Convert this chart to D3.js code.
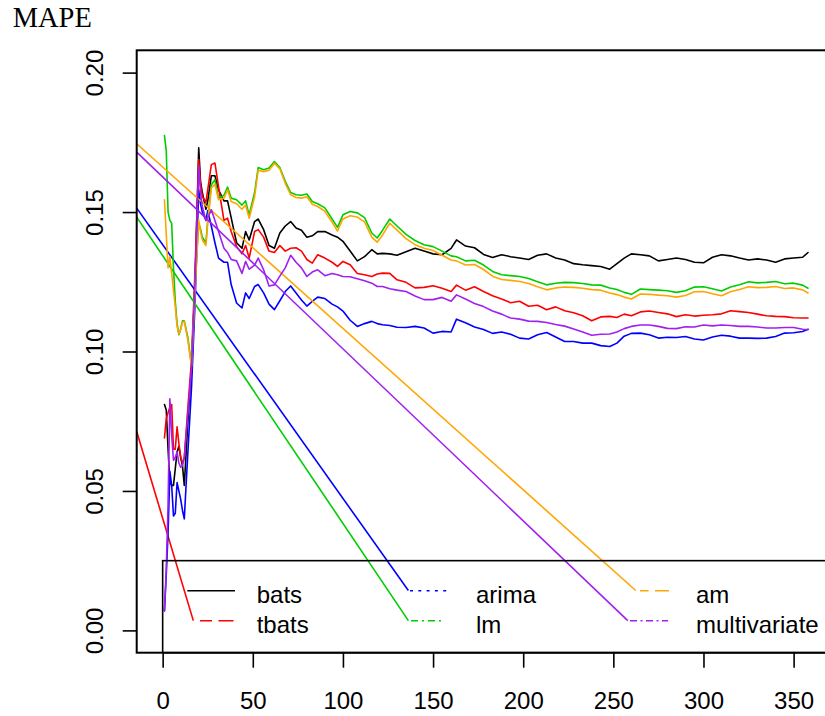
<!DOCTYPE html>
<html lang="en">
  <head>
    <meta charset="utf-8" />
    <title>MAPE</title>
    <script src="https://d3js.org/d3.v7.min.js"></script>
    <style>
      body { margin: 0; background: #fff; }
      text { font-family: "Liberation Sans", Arial, sans-serif; }
    </style>
  </head>
  <body>
    <div id="chart"></div>
    <script>
      // horizon (days) shared by every series
      const xVals = [1, 2, 3, 4, 5, 6, 7, 8, 9, 10,
        11, 12, 14, 16, 18, 20, 21, 22, 24, 25,
        27, 29, 31, 34, 36, 38, 41, 44, 46, 48,
        51, 53, 56, 59, 62, 65, 68, 71, 74, 77,
        80, 83, 86, 90, 94, 97, 100, 104, 108, 112,
        116, 119, 122, 126, 130, 135, 140, 145, 150, 155,
        160, 163, 168, 173, 178, 183, 188, 193, 198, 203,
        208, 213, 218, 223, 228, 233, 238, 243, 248, 252,
        256, 260, 265, 270, 275, 280, 285, 290, 295, 300,
        305, 310, 315, 320, 325, 330, 335, 340, 345, 350,
        355, 358];

      const bats = [0.081, 0.079, 0.065, 0.053, 0.052, 0.052, 0.058, 0.064, 0.066, 0.062,
        0.059, 0.052, 0.075, 0.095, 0.125, 0.173, 0.161, 0.157, 0.151, 0.154,
        0.163, 0.163, 0.158, 0.154, 0.154, 0.148, 0.139, 0.137, 0.143, 0.140,
        0.1466, 0.1475, 0.1437, 0.138, 0.137, 0.1425, 0.145, 0.1466, 0.1443, 0.1435,
        0.141, 0.1415, 0.143, 0.143, 0.1418, 0.141, 0.1395, 0.136, 0.1325, 0.134,
        0.1365, 0.135, 0.1352, 0.135, 0.1345, 0.1358, 0.137, 0.136, 0.135, 0.1347,
        0.137, 0.140, 0.1378, 0.1372, 0.1348, 0.1337, 0.1347, 0.134, 0.1335, 0.133,
        0.1345, 0.135, 0.1335, 0.1328, 0.1315, 0.1311, 0.1308, 0.1305, 0.1295, 0.1315,
        0.1335, 0.135, 0.1347, 0.1343, 0.1325, 0.133, 0.1335, 0.133, 0.132, 0.1318,
        0.1338, 0.1347, 0.1343, 0.1335, 0.1328, 0.1332, 0.1328, 0.132, 0.1332, 0.1335,
        0.1338, 0.1355];

      const tbats = [0.069, 0.076, 0.078, 0.080, 0.081, 0.065, 0.065, 0.073, 0.067, 0.062,
        0.060, 0.062, 0.080, 0.097, 0.130, 0.1688, 0.160, 0.1556, 0.1535, 0.158,
        0.167, 0.1676, 0.159, 0.147, 0.1478, 0.143, 0.1377, 0.135, 0.138, 0.1335,
        0.143, 0.1437, 0.141, 0.136, 0.1355, 0.138, 0.136, 0.137, 0.1372, 0.136,
        0.133, 0.1317, 0.1347, 0.1335, 0.132, 0.1305, 0.1323, 0.1311, 0.128, 0.1275,
        0.1269, 0.1278, 0.1281, 0.128, 0.1257, 0.1248, 0.1228, 0.123, 0.1236, 0.1227,
        0.1215, 0.1238, 0.122, 0.1232, 0.1215, 0.120, 0.1188, 0.1175, 0.118, 0.1162,
        0.1166, 0.115, 0.116, 0.1146, 0.1139, 0.1128, 0.111, 0.1124, 0.1126, 0.1122,
        0.1134, 0.1128, 0.1142, 0.1145, 0.114, 0.1135, 0.1125, 0.1132, 0.1127, 0.113,
        0.1132, 0.1135, 0.1146, 0.1143, 0.114, 0.1134, 0.1128, 0.1126, 0.1125, 0.1121,
        0.112, 0.112];

      const arima = [0.007, 0.020, 0.035, 0.057, 0.052, 0.041, 0.042, 0.053, 0.050, 0.047,
        0.043, 0.040, 0.064, 0.087, 0.118, 0.158, 0.153, 0.150, 0.147, 0.1505,
        0.145, 0.139, 0.1335, 0.132, 0.132, 0.124, 0.1174, 0.1156, 0.121, 0.119,
        0.1233, 0.124, 0.121, 0.117, 0.115, 0.1182, 0.1215, 0.1235, 0.121, 0.1185,
        0.1163, 0.118, 0.1195, 0.119, 0.117, 0.116, 0.1145, 0.1112, 0.109, 0.110,
        0.1108, 0.110, 0.1096, 0.1093, 0.1087, 0.1086, 0.109, 0.1084, 0.1066, 0.1072,
        0.107, 0.1116, 0.1103, 0.1088, 0.1079, 0.1065, 0.107, 0.1062, 0.1048, 0.1045,
        0.106, 0.1068, 0.1052, 0.1036, 0.1036, 0.103, 0.103, 0.1021, 0.1018, 0.103,
        0.1055, 0.1065, 0.1066, 0.106, 0.1048, 0.1051, 0.105, 0.1054, 0.1045, 0.1041,
        0.1052, 0.1058, 0.1055, 0.1048, 0.1048, 0.1047, 0.1048, 0.1054, 0.1066, 0.1067,
        0.1072, 0.108];

      const lm = [0.1774, 0.172, 0.150, 0.147, 0.146, 0.130, 0.118, 0.110, 0.106, 0.108,
        0.111, 0.111, 0.105, 0.095, 0.125, 0.146, 0.144, 0.141, 0.139, 0.147,
        0.1598, 0.1616, 0.155, 0.156, 0.159, 0.155, 0.1544, 0.1525, 0.154, 0.149,
        0.157, 0.166, 0.1652, 0.1658, 0.1681, 0.166, 0.161, 0.157, 0.1562, 0.156,
        0.1565, 0.1538, 0.153, 0.1515, 0.1475, 0.1445, 0.149, 0.1502, 0.1497, 0.148,
        0.1425, 0.1407, 0.1435, 0.1475, 0.145, 0.142, 0.1398, 0.1383, 0.1376, 0.136,
        0.1343, 0.134, 0.1325, 0.1327, 0.131, 0.1287, 0.1275, 0.1272, 0.1269, 0.1262,
        0.125, 0.1239, 0.1245, 0.1248, 0.1247, 0.1244, 0.1239, 0.1238, 0.1228, 0.1222,
        0.1212, 0.1205, 0.1224, 0.1222, 0.122, 0.1218, 0.1212, 0.1218, 0.1231, 0.1232,
        0.1225, 0.1217, 0.1231, 0.1239, 0.125, 0.1246, 0.1248, 0.1251, 0.1243, 0.1245,
        0.1238, 0.1227];

      const am = [0.1544, 0.142, 0.130, 0.134, 0.128, 0.122, 0.116, 0.109, 0.1063, 0.108,
        0.1105, 0.1108, 0.104, 0.0946, 0.122, 0.1472, 0.143, 0.140, 0.138, 0.1461,
        0.1586, 0.160, 0.1544, 0.155, 0.158, 0.1538, 0.153, 0.151, 0.1525, 0.1478,
        0.1555, 0.165, 0.1645, 0.165, 0.1675, 0.1655, 0.1603, 0.1562, 0.1552, 0.155,
        0.1555, 0.1528, 0.152, 0.1503, 0.1463, 0.1432, 0.1475, 0.1487, 0.1482, 0.1465,
        0.141, 0.1392, 0.1418, 0.146, 0.1435, 0.1405, 0.1383, 0.137, 0.1362, 0.1345,
        0.1328, 0.1325, 0.131, 0.1312, 0.1294, 0.127, 0.1258, 0.1255, 0.1251, 0.1244,
        0.1232, 0.1221, 0.1228, 0.1231, 0.123, 0.1227, 0.1222, 0.122, 0.121, 0.1204,
        0.1195, 0.1188, 0.1206, 0.1205, 0.1202, 0.120, 0.1195, 0.1201, 0.1214, 0.1215,
        0.1207, 0.120, 0.1214, 0.1222, 0.1232, 0.1229, 0.123, 0.1233, 0.1226, 0.1228,
        0.1221, 0.121];

      const multivariate = [0.007, 0.022, 0.045, 0.083, 0.070, 0.061, 0.062, 0.064, 0.060, 0.0585,
        0.059, 0.062, 0.078, 0.094, 0.125, 0.1664, 0.157, 0.152, 0.147, 0.148,
        0.1508, 0.147, 0.143, 0.137, 0.1355, 0.133, 0.1325, 0.128, 0.1323, 0.1295,
        0.131, 0.1335, 0.1293, 0.1235, 0.1239, 0.127, 0.130, 0.1345, 0.132, 0.130,
        0.1269, 0.1285, 0.1293, 0.1272, 0.128, 0.1275, 0.1269, 0.1268, 0.1261, 0.1254,
        0.1245, 0.1233, 0.1233, 0.1225, 0.122, 0.1215, 0.1199, 0.1186, 0.1186, 0.1194,
        0.118, 0.1203, 0.1188, 0.1172, 0.1161, 0.1145, 0.1134, 0.112, 0.1116, 0.1109,
        0.1108, 0.1104, 0.1097, 0.1091, 0.1081, 0.107, 0.1058, 0.1062, 0.1063, 0.107,
        0.1082, 0.109, 0.1095, 0.1095, 0.109, 0.1083, 0.1082, 0.1089, 0.1088, 0.1095,
        0.1092, 0.1095, 0.1093, 0.109, 0.109, 0.1088, 0.1084, 0.1084, 0.1086, 0.1086,
        0.108, 0.1078];

      const seriesNames = ["bats", "tbats", "arima", "lm", "am", "multivariate"];
      const seriesValues = [bats, tbats, arima, lm, am, multivariate];
      const seriesColors = ["#000000", "#ff0000", "#0000ff", "#00cd00", "#ffa500", "#a020f0"];

      // the stray straight strokes that run from the left edge to the legend keys
      const linkFromX = -14.4;
      const linkFromY = [null, 0.0713, 0.1514, 0.1482, 0.1745, 0.1715];
      const linkToX = [null, 17.0, 136.3, 136.3, 262.4, 258.0];
      const linkToY = [null, 0.0035, 0.0143, 0.0035, 0.0143, 0.0035];

      const xTicks = [0, 50, 100, 150, 200, 250, 300, 350];
      const yTicks = [0, 0.05, 0.1, 0.15, 0.2];

      let w = 825;
      let h = 716;
      let plotLeft = 136.7, plotTop = 50.3, plotRight = 837.6, plotBottom = 652.7;

      let svg = d3.select("#chart").append("svg")
        .attr("width", w)
        .attr("height", h);

      let xScale = d3.scaleLinear().domain([-14.4, 374.4]).range([plotLeft, plotRight]);
      let yScale = d3.scaleLinear().domain([-0.008, 0.208]).range([plotBottom, plotTop]);

      svg.append("defs").append("clipPath").attr("id", "plot-clip")
        .append("rect")
        .attr("x", plotLeft).attr("y", plotTop)
        .attr("width", plotRight - plotLeft).attr("height", plotBottom - plotTop);

      // title in the top-left corner
      svg.append("text")
        .attr("x", 12.7)
        .attr("y", 27.3)
        .style("font-family", "'Liberation Serif', 'Times New Roman', serif")
        .style("font-size", "28.5px")
        .text("MAPE");

      // axes
      let xAxis = svg.append("g")
        .attr("transform", `translate(0,${plotBottom})`)
        .call(d3.axisBottom(xScale).tickValues(xTicks).tickSize(15).tickFormat(d3.format("d")));
      xAxis.select(".domain").remove();
      xAxis.selectAll("line").attr("stroke", "#000").attr("stroke-width", 1.6);
      xAxis.selectAll("text")
        .attr("y", 56).attr("dy", 0)
        .style("font-size", "24px")
        .style("font-family", "'Liberation Sans', Arial, sans-serif")
        .attr("fill", "#000");

      let yAxis = svg.append("g")
        .attr("transform", `translate(${plotLeft},0)`)
        .call(d3.axisLeft(yScale).tickValues(yTicks).tickSize(14).tickFormat(d3.format(".2f")));
      yAxis.select(".domain").remove();
      yAxis.selectAll("line").attr("stroke", "#000").attr("stroke-width", 1.6);
      yAxis.selectAll("text")
        .attr("x", 0).attr("dy", 0)
        .attr("text-anchor", "middle")
        .attr("transform", "translate(-33.7,0) rotate(-90)")
        .style("font-size", "24px")
        .style("font-family", "'Liberation Sans', Arial, sans-serif")
        .attr("fill", "#000");

      // series
      let line = d3.line()
        .x(function (d, i) { return xScale(xVals[i]); })
        .y(function (d) { return yScale(d); });

      let plot = svg.append("g").attr("clip-path", "url(#plot-clip)");

      seriesValues.forEach(function (vals, k) {
        plot.append("path")
          .datum(vals)
          .attr("d", line)
          .attr("fill", "none")
          .attr("stroke", seriesColors[k])
          .attr("stroke-width", 1.6)
          .attr("stroke-linejoin", "round")
          .attr("stroke-linecap", "round");
        if (linkFromY[k] !== null) {
          plot.append("line")
            .attr("x1", xScale(linkFromX))
            .attr("y1", yScale(linkFromY[k]))
            .attr("x2", xScale(linkToX[k]))
            .attr("y2", yScale(linkToY[k]))
            .attr("stroke", seriesColors[k])
            .attr("stroke-width", 1.6);
        }
      });

      // legend box
      let legTop = yScale(0.025);
      svg.append("rect")
        .attr("x", xScale(0))
        .attr("y", legTop)
        .attr("width", 900)
        .attr("height", plotBottom - legTop)
        .attr("fill", "none")
        .attr("stroke", "#000")
        .attr("stroke-width", 1.6);

      // legend keys: [x1, x2, row, dash]
      let keys = [
        [187.3, 235, 0, null],
        [200, 234, 1, "12,6.5,15,100"],
        [410, 448.3, 0, "3,5.3"],
        [411, 445, 1, "7,4,2,4"],
        [640, 669, 0, "8.5,6.5,14,100"],
        [630, 668, 1, "7,3.5,2,3.5"]
      ];
      let rowY = [590.7, 620.7];
      let colX = [256.7, 476, 696];

      keys.forEach(function (key, k) {
        svg.append("line")
          .attr("x1", key[0]).attr("x2", key[1])
          .attr("y1", rowY[key[2]]).attr("y2", rowY[key[2]])
          .attr("stroke", seriesColors[k])
          .attr("stroke-width", 1.6)
          .attr("stroke-dasharray", key[3]);
        svg.append("text")
          .attr("x", colX[Math.floor(k / 2)])
          .attr("y", rowY[key[2]] + 12.3)
          .style("font-size", "24px")
          .text(seriesNames[k]);
      });

      // plot frame
      svg.append("rect")
        .attr("x", plotLeft).attr("y", plotTop)
        .attr("width", plotRight - plotLeft).attr("height", plotBottom - plotTop)
        .attr("fill", "none")
        .attr("stroke", "#000")
        .attr("stroke-width", 2);
    </script>
  </body>
</html>
